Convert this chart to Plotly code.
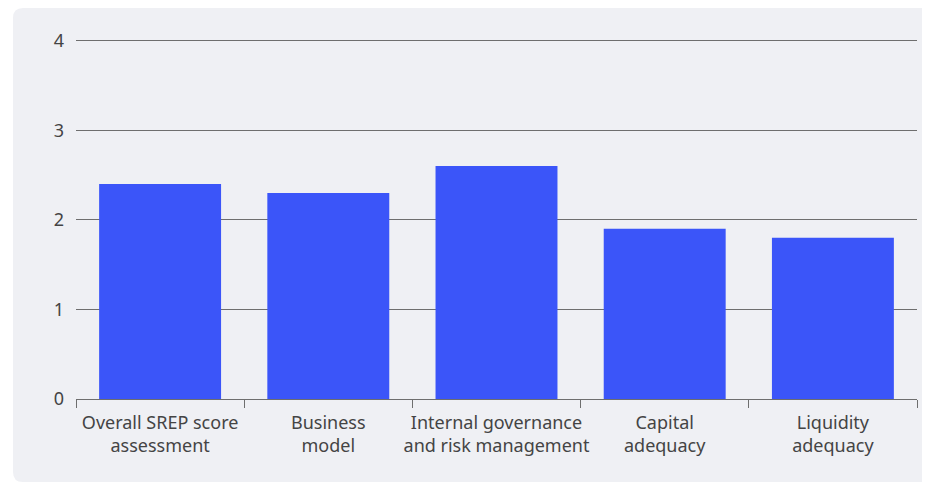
import plotly.graph_objects as go

categories = ["Overall SREP score<br>assessment", "Business<br>model",
              "Internal governance<br>and risk management", "Capital<br>adequacy",
              "Liquidity<br>adequacy"]
scores = [2.4, 2.3, 2.6, 1.9, 1.8]

W, H = 922, 475
L, R, T, B = 68, 13, 30, 84
pw, ph = W - L - R, H - T - B
GRAY = "#eff0f4"

def px(x):
    return (x - L) / pw

def py(y):
    return (H - B - y) / ph

x0 = px(5)
y0, y1 = py(474), py(0)
rx, ry = 10 / pw, 10 / ph
fillet_bl = f"M {x0},{y0} L {x0+rx},{y0} Q {x0},{y0} {x0},{y0+ry} Z"
fillet_tl = f"M {x0},{y1} L {x0+rx},{y1} Q {x0},{y1} {x0},{y1-ry} Z"

white = dict(xref="paper", yref="paper", fillcolor="white", line_width=0,
             layer="below")
shapes = [
    dict(type="rect", x0=px(0), x1=x0, y0=py(H), y1=py(0), **white),
    dict(type="rect", x0=px(0), x1=px(W), y0=py(H), y1=y0, **white),
    dict(type="path", path=fillet_bl, **white),
    dict(type="path", path=fillet_tl, **white),
]

fig = go.Figure(go.Bar(x=categories, y=scores, marker_color="#3b55f9",
                       marker_line_width=0))
fig.update_layout(
    width=W, height=H,
    margin=dict(l=L, r=R, t=T, b=B, autoexpand=False),
    paper_bgcolor=GRAY, plot_bgcolor="rgba(0,0,0,0)",
    font=dict(family="Noto Sans", size=18, color="#444444"),
    bargap=0.275,
    showlegend=False,
    shapes=shapes,
)
fig.update_xaxes(showgrid=False, showline=True, linecolor="#6e6e6e", linewidth=1,
                 ticks="outside", tickson="boundaries", ticklen=8,
                 tickcolor="#6e6e6e", tickangle=0, automargin=False,
                 ticklabelstandoff=7,
                 tickfont=dict(size=18, color="#444444"))
fig.update_yaxes(range=[0, 4.03], tickvals=[0, 1, 2, 3, 4], showgrid=True,
                 gridcolor="#6e6e6e", automargin=False,
                 gridwidth=1, zeroline=False, showline=False,
                 ticklabelstandoff=11, tickfont=dict(size=18, color="#444444"))
fig.write_html("out.html")
